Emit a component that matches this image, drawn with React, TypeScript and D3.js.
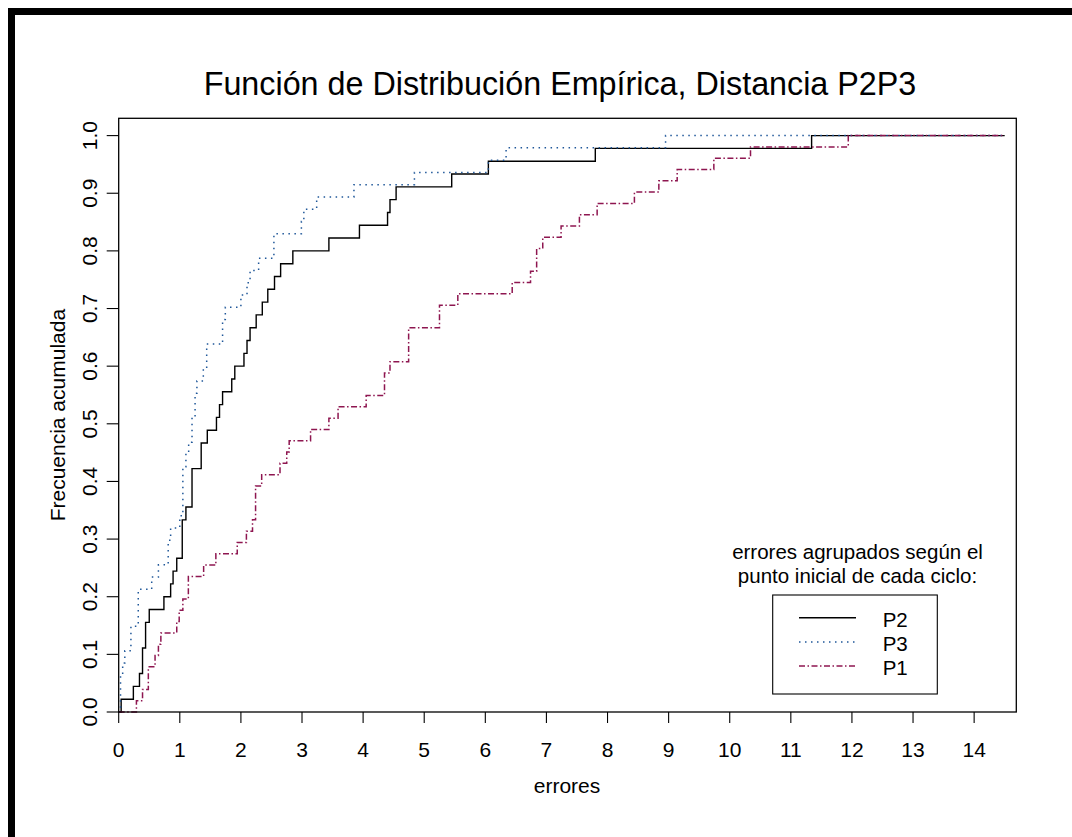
import { useEffect, useRef } from "react";
import * as d3 from "d3";

const p2Errores = [
  0.04, 0.24, 0.34, 0.39, 0.39, 0.44, 0.44, 0.5, 0.74, 0.85, 0.89, 0.95, 1.04, 1.04, 1.04,
  1.1, 1.2, 1.2, 1.2, 1.35, 1.35, 1.45, 1.6, 1.65, 1.7, 1.85, 1.9, 2.05, 2.1, 2.15,
  2.25, 2.35, 2.44, 2.55, 2.65, 2.85, 3.44, 3.94, 4.4, 4.44, 4.54, 5.45, 6.05, 7.8, 11.34,
];
const p3Errores = [
  0.03, 0.03, 0.03, 0.065, 0.1, 0.2, 0.2, 0.32, 0.32, 0.32, 0.54, 0.65, 0.81, 0.81, 0.85,
  1.0, 1.05, 1.05, 1.05, 1.05, 1.1, 1.145, 1.2, 1.2, 1.25, 1.25, 1.28, 1.385, 1.44, 1.44,
  1.7, 1.7, 1.745, 2.0, 2.1, 2.15, 2.29, 2.54, 2.54, 2.99, 3.03, 3.24, 3.85, 4.84, 6.05,
  6.34, 8.95,
];
const p1Errores = [
  0.29, 0.39, 0.485, 0.485, 0.595, 0.65, 0.69, 0.95, 0.99, 1.05, 1.14, 1.14, 1.39, 1.59,
  1.94, 2.09, 2.19, 2.24, 2.24, 2.24, 2.34, 2.64, 2.75, 2.79, 3.14, 3.44, 3.59, 4.05,
  4.35, 4.35, 4.44, 4.745, 4.745, 4.745, 5.25, 5.25, 5.55, 6.44, 6.74, 6.84, 6.84, 6.94,
  7.24, 7.54, 7.83, 8.44, 8.84, 9.14, 9.74, 10.34, 11.94,
];

const xTicks = d3.range(0, 15);
const yTicks = [0, 0.1, 0.2, 0.3, 0.4, 0.5, 0.6, 0.7, 0.8, 0.9, 1.0];
const xMax = 14.5;

const series = [
  { name: "P2", values: p2Errores, color: "#000000", dash: null, width: 1.4 },
  { name: "P3", values: p3Errores, color: "#1f5799", dash: "1.5,4.5", width: 1.5 },
  { name: "P1", values: p1Errores, color: "#8e1650", dash: "6,2.5,1.5,2.5", width: 1.5 },
];

const font = "'Liberation Sans', Arial, sans-serif";

function ecdfPoints(values: number[]): [number, number][] {
  const sorted = values.slice().sort((a, b) => a - b);
  const n = sorted.length;
  const pts: [number, number][] = [[0, 0]];
  sorted.forEach((v, i) => {
    if (i === n - 1 || sorted[i + 1] !== v) pts.push([v, (i + 1) / n]);
  });
  pts.push([xMax, 1]);
  return pts;
}

export default function App() {
  const svgRef = useRef<SVGSVGElement>(null);

  useEffect(() => {
    const svg = d3.select(svgRef.current);
    svg.selectAll("*").remove();

    const left = 118.7, right = 1016.3, top = 118.3, bottom = 712;
    const x = d3.scaleLinear().domain([0, 14.69]).range([left, right]);
    const y = d3.scaleLinear().domain([0, 1]).range([bottom, 135.6]);

    svg.append("rect").attr("width", 1072).attr("height", 837).attr("fill", "#fff");
    // marco negro de la imagen
    svg.append("rect").attr("x", 8).attr("y", 8).attr("width", 1064).attr("height", 7).attr("fill", "#000");
    svg.append("rect").attr("x", 8).attr("y", 8).attr("width", 7).attr("height", 829).attr("fill", "#000");

    svg.append("text")
      .attr("x", 560).attr("y", 95)
      .attr("text-anchor", "middle")
      .style("font", `32.3px ${font}`)
      .text("Función de Distribución Empírica, Distancia P2P3");

    const line = d3.line<[number, number]>()
      .x(d => x(d[0]))
      .y(d => y(d[1]))
      .curve(d3.curveStepAfter);

    const g = svg.append("g");
    series.forEach(s => {
      g.append("path")
        .attr("d", line(ecdfPoints(s.values)))
        .attr("fill", "none")
        .attr("stroke", s.color)
        .attr("stroke-width", s.width)
        .attr("stroke-dasharray", s.dash);
    });

    // marco del panel
    svg.append("rect")
      .attr("x", left).attr("y", top)
      .attr("width", right - left).attr("height", bottom - top)
      .attr("fill", "none").attr("stroke", "#000").attr("stroke-width", 1.3);

    // eje x
    const ax = svg.append("g");
    ax.selectAll("line").data(xTicks).join("line")
      .attr("x1", d => x(d)).attr("x2", d => x(d))
      .attr("y1", bottom).attr("y2", bottom + 11)
      .attr("stroke", "#000").attr("stroke-width", 1.1);
    ax.selectAll("text").data(xTicks).join("text")
      .attr("x", d => x(d)).attr("y", 757)
      .attr("text-anchor", "middle")
      .style("font", `21px ${font}`)
      .text(d => d);
    svg.append("text")
      .attr("x", 567).attr("y", 793)
      .attr("text-anchor", "middle")
      .style("font", `21px ${font}`)
      .text("errores");

    // eje y
    const ay = svg.append("g");
    ay.selectAll("line").data(yTicks).join("line")
      .attr("x1", left).attr("x2", left - 12)
      .attr("y1", d => y(d)).attr("y2", d => y(d))
      .attr("stroke", "#000").attr("stroke-width", 1.1);
    ay.selectAll("text").data(yTicks).join("text")
      .attr("transform", d => `translate(96.5,${y(d)}) rotate(-90)`)
      .attr("text-anchor", "middle")
      .style("font", `21px ${font}`)
      .text(d => d3.format(".1f")(d));
    svg.append("text")
      .attr("transform", `translate(64.5,${(top + bottom) / 2}) rotate(-90)`)
      .attr("text-anchor", "middle")
      .style("font", `21px ${font}`)
      .text("Frecuencia acumulada");

    // leyenda
    const lg = svg.append("g");
    lg.append("text").attr("x", 857.5).attr("y", 559.3).attr("text-anchor", "middle")
      .style("font", `20.5px ${font}`).text("errores agrupados según el");
    lg.append("text").attr("x", 857.5).attr("y", 583.3).attr("text-anchor", "middle")
      .style("font", `20.5px ${font}`).text("punto inicial de cada ciclo:");
    lg.append("rect").attr("x", 772.7).attr("y", 595).attr("width", 164.6).attr("height", 99)
      .attr("fill", "none").attr("stroke", "#000").attr("stroke-width", 1.1);
    series.forEach((s, i) => {
      const ly = 617.7 + i * 24.2;
      lg.append("line").attr("x1", 799).attr("x2", 856).attr("y1", ly).attr("y2", ly)
        .attr("stroke", s.color).attr("stroke-width", s.width).attr("stroke-dasharray", s.dash);
      lg.append("text").attr("x", 882.7).attr("y", ly + 9)
        .style("font", `20.5px ${font}`).text(s.name);
    });
  }, []);

  return (
    <svg ref={svgRef} width={1072} height={837}
      style={{ position: "absolute", left: 0, top: 0, display: "block" }} />
  );
}
